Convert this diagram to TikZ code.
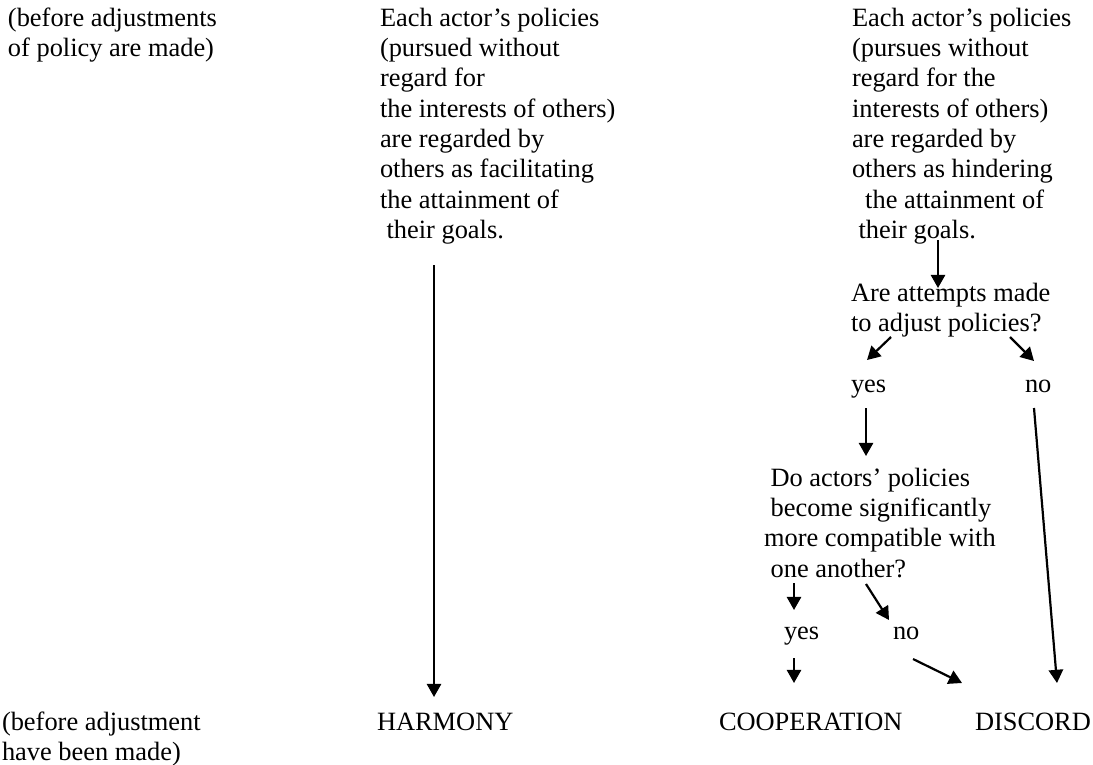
\documentclass[tikz,border=0pt]{standalone}
\usepackage{fontspec}
\setmainfont{Liberation Serif}
\usetikzlibrary{arrows.meta}
\newcommand{\txtlines}[1]{\begin{tabular}[t]{@{}l@{}}#1\end{tabular}}
\begin{document}
\begin{tikzpicture}[x=0.4545pt,y=-0.4545pt,
  lbl/.style={anchor=base west, inner sep=0pt, outer sep=0pt, font=\fontsize{12}{13.8}\selectfont},
  arr/.style={-{Triangle[length=6pt,width=6.5pt]}, line width=1pt}]
\useasboundingbox (0,0) rectangle (1093,764);

% top row
\node[lbl] (topleft) at (8,26) {\txtlines{(before adjustments\\of policy are made)}};
\node[lbl] (harmtext) at (380,26) {\txtlines{Each actor’s policies\\(pursued without\\regard for\\the interests of others)\\are regarded by\\others as facilitating\\the attainment of\\\ their goals.}};
\node[lbl] (disctext) at (852,26) {\txtlines{Each actor’s policies\\(pursues without\\regard for the\\interests of others)\\are regarded by\\others as hindering\\\ \ the attainment of\\\ their goals.}};

% questions and answers
\node[lbl] (q1) at (851,301) {\txtlines{Are attempts made\\to adjust policies?}};
\node[lbl] (yes1) at (851,392) {yes};
\node[lbl] (no1) at (1025,392) {no};
\node[lbl] (q2) at (764,486) {\txtlines{\ Do actors’ policies\\\ become significantly\\more compatible with\\\ one another?}};
\node[lbl] (yes2) at (784,639) {yes};
\node[lbl] (no2) at (893,639) {no};

% bottom row
\node[lbl] (botleft) at (2,730) {\txtlines{(before adjustment\\have been made)}};
\node[lbl] (harmony) at (377,730) {HARMONY};
\node[lbl] (coop) at (719,730) {COOPERATION};
\node[lbl] (discord) at (975,730) {DISCORD};

% connector end points
\coordinate (h0) at (434,265);  \coordinate (h1) at (434,697);
\coordinate (d0) at (938,240);  \coordinate (d1) at (938,288);
\coordinate (q1a) at (891,337); \coordinate (q1b) at (867,360);
\coordinate (q1c) at (1010,337);\coordinate (q1d) at (1034,361);
\coordinate (y1a) at (866,408); \coordinate (y1b) at (866,456);
\coordinate (n1a) at (1034,408);\coordinate (n1b) at (1057,683);
\coordinate (q2a) at (794,583); \coordinate (q2b) at (794,610);
\coordinate (q2c) at (866,584); \coordinate (q2d) at (889,620);
\coordinate (y2a) at (794,658); \coordinate (y2b) at (794,683);
\coordinate (n2a) at (913,659); \coordinate (n2b) at (962,683);

\draw[arr] (h0) -- (h1);
\draw[arr] (d0) -- (d1);
\draw[arr] (q1a) -- (q1b);
\draw[arr] (q1c) -- (q1d);
\draw[arr] (y1a) -- (y1b);
\draw[arr] (n1a) -- (n1b);
\draw[arr] (q2a) -- (q2b);
\draw[arr] (q2c) -- (q2d);
\draw[arr] (y2a) -- (y2b);
\draw[arr] (n2a) -- (n2b);
\end{tikzpicture}
\end{document}
